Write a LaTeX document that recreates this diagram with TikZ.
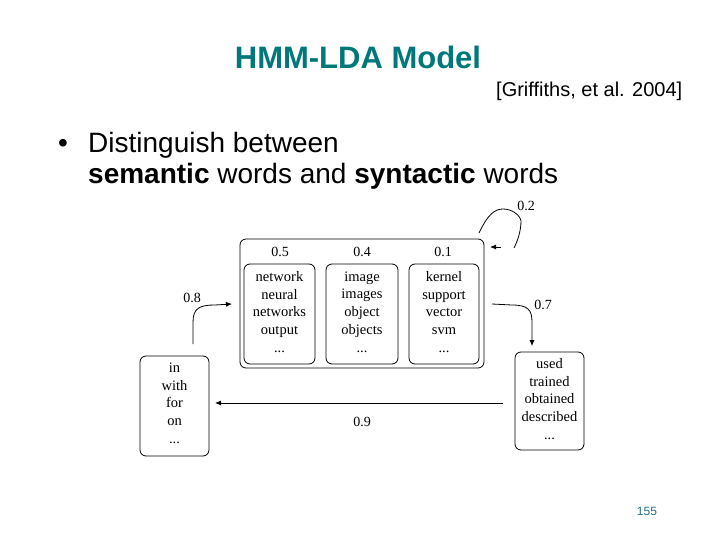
\documentclass[tikz,border=0pt]{standalone}
\usepackage{fontspec}
\setmainfont{Liberation Serif}
\newfontfamily\arial{Liberation Sans}
\usetikzlibrary{arrows.meta}
\definecolor{titlecol}{HTML}{00787A}
\definecolor{pagecol}{HTML}{1F6F8B}
\tikzset{
  wbox/.style={draw, rounded corners=6pt, line width=0.8pt},
  words/.style={font=\fontsize{14.5}{17.7}\selectfont, align=center, inner sep=0pt},
  prob/.style={font=\fontsize{14}{16}\selectfont, inner sep=1pt},
  conn/.style={line width=0.8pt, -{Latex[length=6pt,width=5pt]}},
}
\begin{document}
\begin{tikzpicture}[x=1pt,y=-1pt]
\useasboundingbox (0,0) rectangle (720,540);
% titles
\node[font=\arial\bfseries\fontsize{31}{36}\selectfont, text=titlecol, anchor=base] (title) at (358,69) {HMM-LDA Model};
\node[font=\arial\fontsize{20}{24}\selectfont, anchor=base west, inner sep=0pt] (cite) at (496,97) {[Griffiths, et al. 2004]};
\node[font=\arial\fontsize{28}{31}\selectfont, anchor=base west, inner sep=0pt] (bul) at (58,153) {\textbullet};
\node[font=\arial\fontsize{28}{31}\selectfont, anchor=base west, inner sep=0pt, align=left] (txt1) at (88,153) {Distinguish between};
\node[font=\arial\fontsize{28}{31}\selectfont, anchor=base west, inner sep=0pt, align=left] (txt2) at (88,184) {\textbf{semantic} words and \textbf{syntactic} words};
% boxes
\draw[wbox] (240,239) rectangle (484,368);
\node[wbox, minimum width=71pt, minimum height=100pt] (b1) at (279.5,314) {};
\node[wbox, minimum width=72pt, minimum height=100pt] (b2) at (362,314) {};
\node[wbox, minimum width=70pt, minimum height=100pt] (b3) at (444,314) {};
\node[wbox, minimum width=69pt, minimum height=100pt] (bl) at (174.5,406) {};
\node[wbox, minimum width=69pt, minimum height=98pt] (br) at (549.5,401) {};
% probabilities
\node[prob] (p1) at (280,252) {0.5};
\node[prob] (p2) at (362,252) {0.4};
\node[prob] (p3) at (443,252) {0.1};
% words
\node[words] (w1) at (279.5,312) {network\\neural\\networks\\output\\...};
\node[words] (w2) at (362,312) {image\\images\\object\\objects\\...};
\node[words] (w3) at (444,312) {kernel\\support\\vector\\svm\\...};
\node[words] (wl) at (174.5,403) {in\\with\\for\\on\\...};
\node[words] (wr) at (549.5,399) {used\\trained\\obtained\\described\\...};
% connectors
\coordinate (s08) at (193,344);
\coordinate (e08) at (232,304);
\draw[conn] (s08) -- (193,322) .. controls (193,308) and (200,305) .. (215,305) -- (e08);
\node[prob] (l08) at (192,298) {0.8};
\coordinate (s07) at (492,304);
\coordinate (e07) at (532,346);
\draw[conn] (s07) -- (512,305) .. controls (528,305) and (532,310) .. (532,322) -- (e07);
\node[prob] (l07) at (543,305) {0.7};
\coordinate (s09) at (503,403);
\coordinate (e09) at (215,403);
\draw[conn] (s09) -- (e09);
\node[prob] (l09) at (362,422) {0.9};
\coordinate (e02) at (490,247);
\draw[line width=0.8pt] (479,233) .. controls (488,214) and (495,209) .. (503,209) .. controls (512,209) and (520,215) .. (521,221) .. controls (521,232) and (517,242) .. (514,248);
\draw[conn] (501,247) -- (e02);
\node[prob] (l02) at (526,206) {0.2};
% page number
\node[font=\arial\fontsize{12}{14}\selectfont, text=pagecol] (page) at (647,511) {155};
\end{tikzpicture}
\end{document}
